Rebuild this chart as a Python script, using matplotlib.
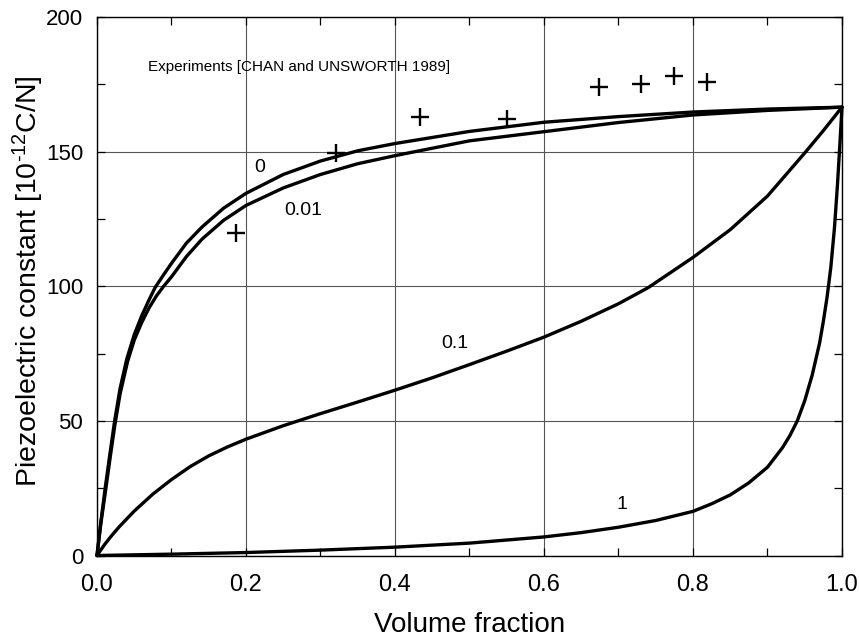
import matplotlib
matplotlib.use('Agg')
import matplotlib.pyplot as plt
from matplotlib.ticker import MultipleLocator

# ---- data ----
f_c0 = [0, 0.005, 0.011, 0.017, 0.0237, 0.031, 0.04, 0.05, 0.06, 0.07, 0.078, 0.09, 0.1,
        0.12, 0.141, 0.17, 0.2, 0.25, 0.3, 0.35, 0.4, 0.5, 0.6, 0.7, 0.8, 0.9, 1.0]
y_c0 = [0, 12, 25, 37, 50, 62, 73, 82, 89, 95, 99.5, 104.5, 108.5,
        116, 122, 129, 134.5, 141.5, 146.5, 150.3, 153, 157.5, 160.9, 163, 164.7, 165.8, 166.5]

f_c001 = [0, 0.005, 0.012, 0.018, 0.024, 0.031, 0.041, 0.05, 0.06, 0.07, 0.08, 0.0895, 0.1,
          0.12, 0.141, 0.17, 0.2, 0.25, 0.3, 0.35, 0.4, 0.5, 0.6, 0.7, 0.8, 0.9, 1.0]
y_c001 = [0, 11.5, 25, 37, 48.5, 60, 72, 80, 86.5, 92, 96.5, 100, 103.5,
          111, 117.5, 124.5, 130, 136.5, 141.5, 145.5, 148.5, 154, 157.4, 160.8, 163.6, 165.3, 166.5]

f_c01 = [0, 0.01, 0.02, 0.03, 0.05, 0.075, 0.1, 0.125, 0.15, 0.175, 0.2, 0.25, 0.3, 0.35,
         0.4, 0.45, 0.5, 0.55, 0.6, 0.65, 0.7, 0.74, 0.8, 0.85, 0.9, 0.95, 0.975, 1.0]
y_c01 = [0, 4.0, 7.5, 10.7, 16.5, 22.8, 28.2, 33, 37, 40.3, 43.2, 48.2, 52.7, 57,
         61.4, 66, 70.9, 75.9, 81.1, 87, 93.5, 99.5, 110.7, 121, 133.5, 149.5, 157.8, 166.5]

f_c1 = [0, 0.1, 0.2, 0.3, 0.4, 0.5, 0.6, 0.65, 0.7, 0.75, 0.8, 0.825, 0.85, 0.875, 0.9, 0.92,
        0.93, 0.94, 0.95, 0.96, 0.97, 0.975, 0.98, 0.985, 0.99, 0.994, 0.997, 1.0]
y_c1 = [0, 0.5, 1.1, 2.0, 3.1, 4.6, 6.9, 8.5, 10.5, 13, 16.4, 19.2, 22.5, 27, 32.8, 40,
        44.5, 50, 57.5, 67, 79, 87, 96, 107, 122, 138, 152, 166.5]

exp_x = [0.187, 0.321, 0.434, 0.550, 0.674, 0.730, 0.774, 0.819]
exp_y = [119.9, 149.4, 163.0, 162.0, 174.1, 175.0, 178.1, 176.0]

curve_labels = ['0', '0.01', '0.1', '1']
label_pos = [(0.219, 144.2), (0.277, 128.3), (0.4805, 78.8), (0.705, 18.8)]

x_ticks = [0.0, 0.2, 0.4, 0.6, 0.8, 1.0]
x_ticklabels = ['0.0', '0.2', '0.4', '0.6', '0.8', '1.0']
y_ticks = [0, 50, 100, 150, 200]
y_ticklabels = ['0', '50', '100', '150', '200']

# ---- fonts ----
regular = 'Liberation Sans'
plt.rcParams['font.family'] = [regular, 'DejaVu Sans']
plt.rcParams['mathtext.fontset'] = 'custom'
plt.rcParams['mathtext.rm'] = regular
plt.rcParams['mathtext.it'] = regular

fig = plt.figure(figsize=(8.59, 6.38), dpi=100)
ax = fig.add_axes([0.1129, 0.1293, 0.8673, 0.8441])

lw = 2.4
for fx, fy in [(f_c0, y_c0), (f_c001, y_c001), (f_c01, y_c01), (f_c1, y_c1)]:
    ax.plot(fx, fy, color='black', lw=lw, solid_joinstyle='round',
            solid_capstyle='round', clip_on=False, zorder=3)

ax.plot(exp_x, exp_y, linestyle='none', marker='+', ms=13, mew=1.7,
        color='black', zorder=4)

for lab, (lx, ly) in zip(curve_labels, label_pos):
    ax.text(lx, ly, lab, fontsize=14, ha='center', va='center', zorder=5)

ax.text(0.068, 181.3, 'Experiments [CHAN and UNSWORTH 1989]', fontsize=11,
        ha='left', va='center')

ax.set_xlim(0, 1)
ax.set_ylim(0, 200)
ax.set_xticks(x_ticks)
ax.set_xticklabels(x_ticklabels, fontsize=17)
ax.set_yticks(y_ticks)
ax.set_yticklabels(y_ticklabels, fontsize=16)
ax.xaxis.set_minor_locator(MultipleLocator(0.1))
ax.yaxis.set_minor_locator(MultipleLocator(25))
ax.tick_params(which='both', direction='in', top=True, right=True, width=0.9, color='black')
ax.tick_params(which='major', length=6)
ax.tick_params(which='minor', length=6)
ax.tick_params(axis='x', which='major', pad=13)
ax.tick_params(axis='y', which='major', pad=10)
ax.grid(which='major', color='#555555', lw=0.8, zorder=1)
ax.set_axisbelow(True)
for s in ax.spines.values():
    s.set_linewidth(1.0)
    s.set_color('black')

ax.set_xlabel('Volume fraction', fontsize=20, labelpad=12)
ax.set_ylabel('Piezoelectric constant [10$^{\\mathregular{\u2010}12}$C/N]', fontsize=20.5)
ax.yaxis.set_label_coords(-0.068, 0.51)

fig.savefig('out.png', dpi=100)
